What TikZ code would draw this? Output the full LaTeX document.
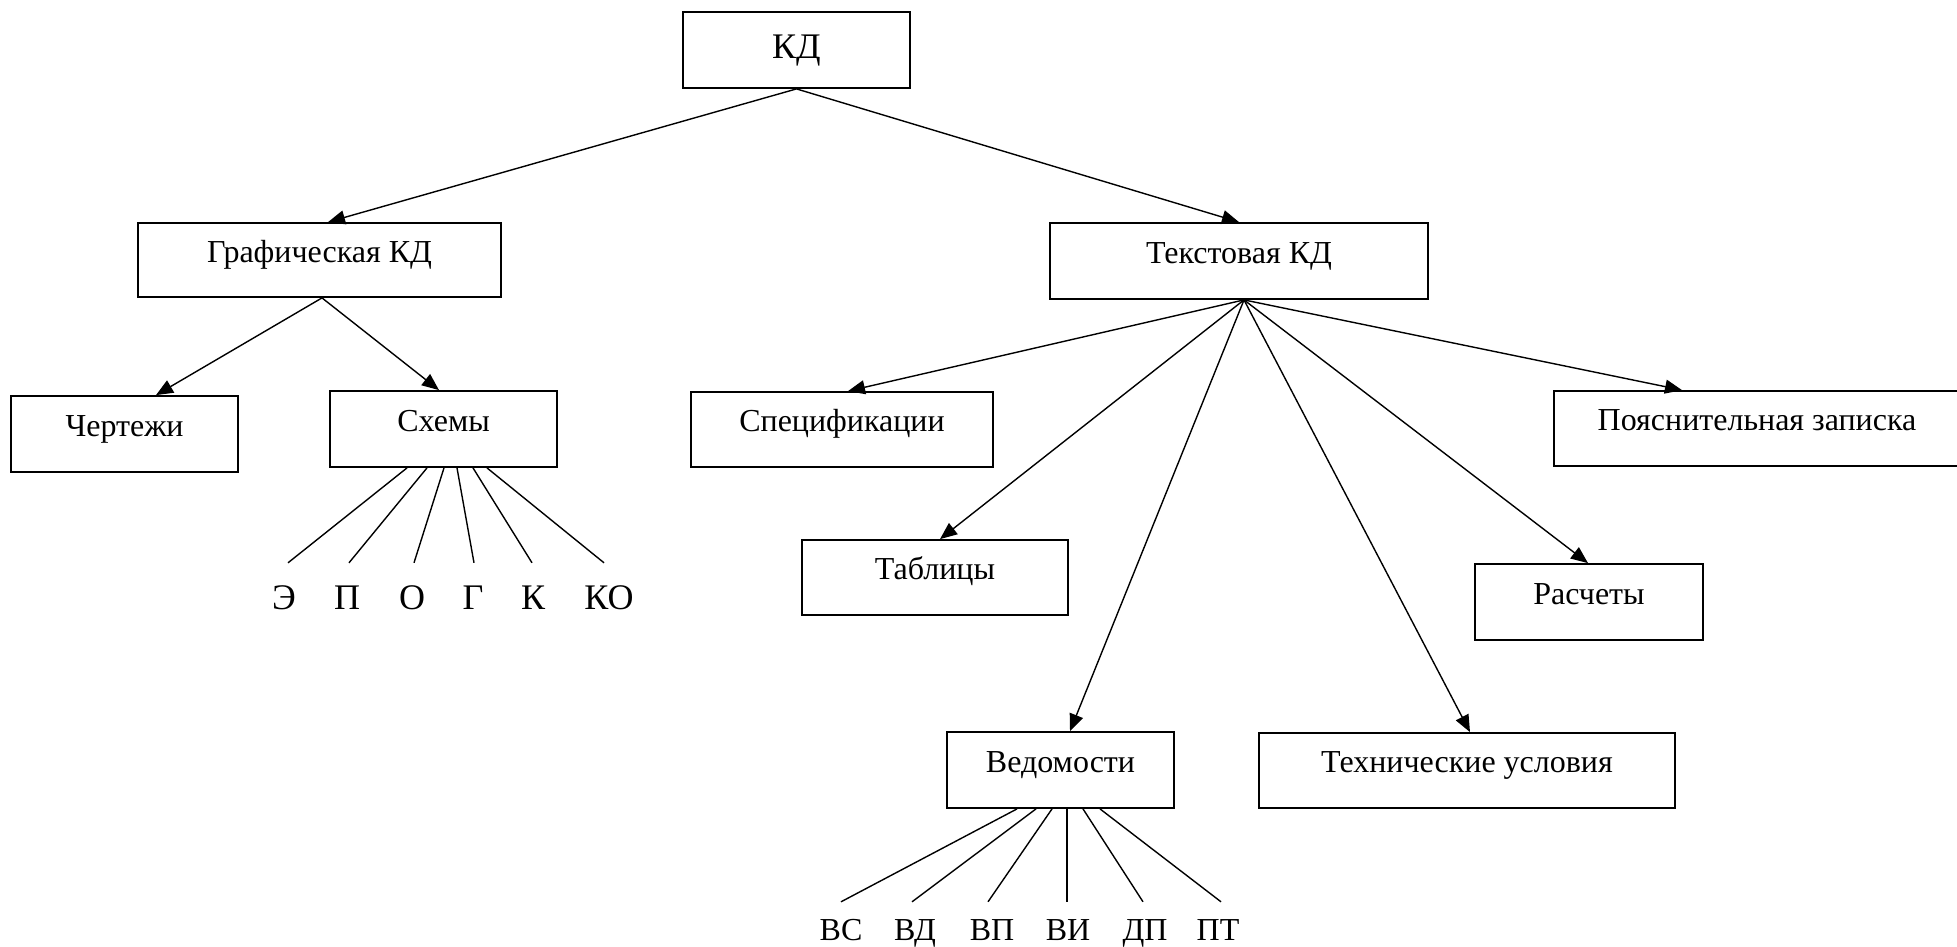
\documentclass[tikz,border=0pt]{standalone}
\usepackage{fontspec}
\setmainfont{Liberation Serif}
\usetikzlibrary{arrows.meta}
\begin{document}
\begin{tikzpicture}[x=1pt,y=-1pt,
  box/.style={draw, line width=1.8pt, inner sep=0pt, rectangle,
    text height=20pt, text depth=16pt, minimum height=76pt,
    font=\fontsize{32}{36}\selectfont},
  arr/.style={line width=1.4pt, -{Triangle[length=17pt,width=14pt]}},
  leg/.style={line width=1.4pt},
  bigletter/.style={inner sep=0pt, anchor=base, text height=46pt,
    font=\fontsize{36}{40}\selectfont},
  smallletter/.style={inner sep=0pt, anchor=base, text height=38pt,
    font=\fontsize{32}{36}\selectfont}]
\useasboundingbox (0,0) rectangle (1957,946);

% boxes
\node[box, minimum width=227pt, text height=26pt, text depth=10pt,
  font=\fontsize{36}{40}\selectfont] (kd) at (796.5,50) {КД};
\node[box, minimum width=363pt, minimum height=74pt] (graf) at (319.5,260) {Графическая КД};
\node[box, minimum width=378pt] (txt) at (1239,261) {Текстовая КД};
\node[box, minimum width=227pt] (cher) at (124.5,434) {Чертежи};
\node[box, minimum width=227pt] (schem) at (443.5,429) {Схемы};
\node[box, minimum width=302pt, minimum height=75pt] (spec) at (842,429.5) {Спецификации};
\node[box, minimum width=406pt, minimum height=75pt] (poyas) at (1757,428.5) {Пояснительная записка};
\node[box, minimum width=266pt, minimum height=75pt] (tabl) at (935,577.5) {Таблицы};
\node[box, minimum width=228pt] (rasch) at (1589,602) {Расчеты};
\node[box, minimum width=227pt] (ved) at (1060.5,770) {Ведомости};
\node[box, minimum width=416pt, minimum height=75pt] (tu) at (1467,770.5) {Технические условия};

% arrows
\draw[arr] (kd.south) -- ([xshift=8.5pt]graf.north);
\draw[arr] (kd.south) -- (txt.north);
\draw[arr] ([xshift=2.5pt]graf.south) -- ([xshift=31.5pt]cher.north);
\draw[arr] ([xshift=2.5pt]graf.south) -- ([xshift=-4.5pt]schem.north);
\draw[arr] ([xshift=5pt]txt.south) -- ([xshift=6pt]spec.north);
\draw[arr] ([xshift=5pt]txt.south) -- ([xshift=5pt]tabl.north);
\draw[arr] ([xshift=5pt]txt.south) -- ([xshift=9.5pt]ved.north);
\draw[arr] ([xshift=5pt]txt.south) -- ([xshift=3pt]tu.north);
\draw[arr] ([xshift=5pt]txt.south) -- ([xshift=-1pt]rasch.north);
\draw[arr] ([xshift=5pt]txt.south) -- ([xshift=-75pt]poyas.north);

% kinds of schemes
\node[bigletter] (se) at (284,609) {Э};
\node[bigletter] (sp) at (347,609) {П};
\node[bigletter] (so) at (412,609) {О};
\node[bigletter] (sg) at (473,609) {Г};
\node[bigletter] (sk) at (533,609) {К};
\node[bigletter] (sko) at (609,609) {КО};
\draw[leg] ([xshift=-36.5pt]schem.south) -- ([xshift=4pt]se.north);
\draw[leg] ([xshift=-16.5pt]schem.south) -- ([xshift=2pt]sp.north);
\draw[leg] ([xshift=0.5pt]schem.south) -- ([xshift=2pt]so.north);
\draw[leg] ([xshift=13.5pt]schem.south) -- ([xshift=1pt]sg.north);
\draw[leg] ([xshift=29.5pt]schem.south) -- ([xshift=-1pt]sk.north);
\draw[leg] ([xshift=43.5pt]schem.south) -- ([xshift=-5pt]sko.north);

% kinds of lists
\node[smallletter] (vs) at (841,940) {ВС};
\node[smallletter] (vd) at (915,940) {ВД};
\node[smallletter] (vp) at (992,940) {ВП};
\node[smallletter] (vi) at (1068,940) {ВИ};
\node[smallletter] (dp) at (1145,940) {ДП};
\node[smallletter] (pt) at (1218,940) {ПТ};
\draw[leg] ([xshift=-43.5pt]ved.south) -- (vs.north);
\draw[leg] ([xshift=-24.5pt]ved.south) -- ([xshift=-3pt]vd.north);
\draw[leg] ([xshift=-8.5pt]ved.south) -- ([xshift=-4pt]vp.north);
\draw[leg] ([xshift=6.5pt]ved.south) -- ([xshift=-1pt]vi.north);
\draw[leg] ([xshift=22.5pt]ved.south) -- ([xshift=-2pt]dp.north);
\draw[leg] ([xshift=39.5pt]ved.south) -- ([xshift=3pt]pt.north);
\end{tikzpicture}
\end{document}
